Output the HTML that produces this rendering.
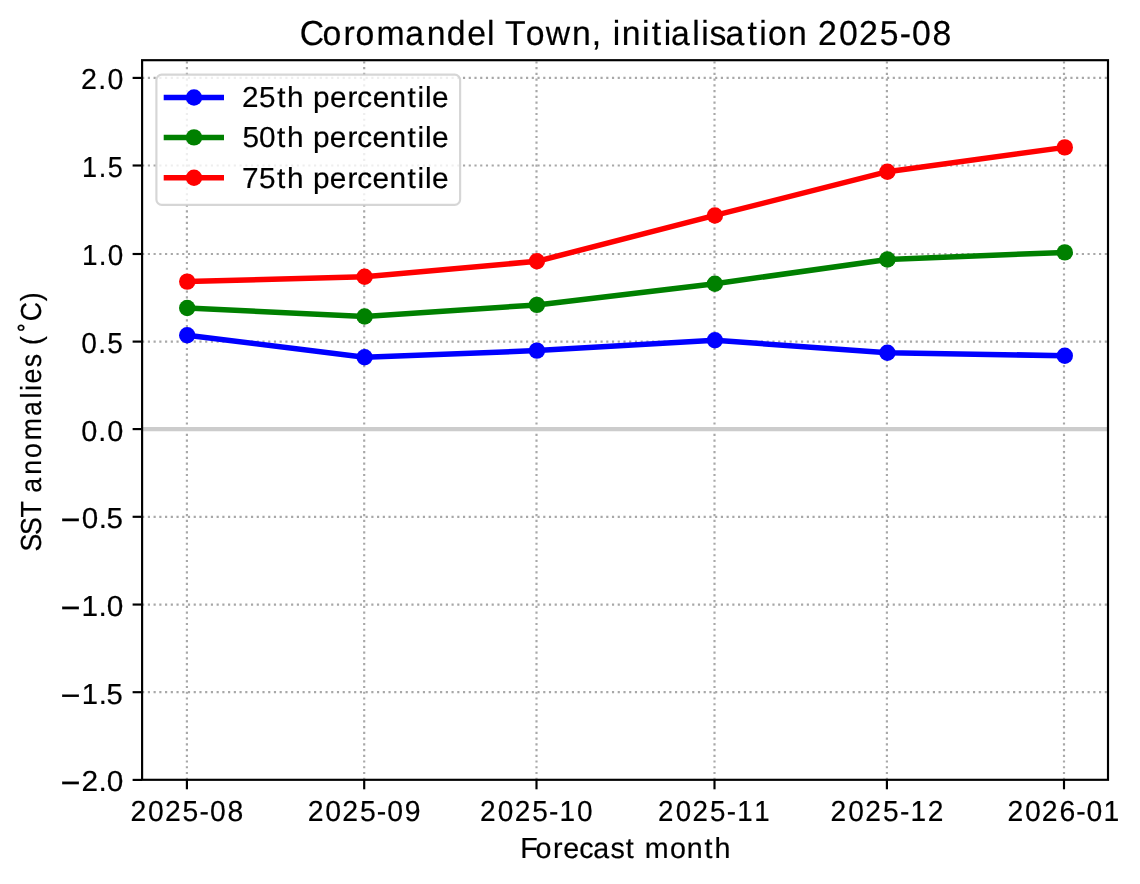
<!DOCTYPE html>
<html lang="en"><head><meta charset="utf-8"><title>Coromandel Town, initialisation 2025-08</title>
<style>html,body{margin:0;padding:0;background:#fff}body{width:1140px;height:884px;overflow:hidden;font-family:"Liberation Sans",sans-serif}svg{display:block;will-change:transform}</style></head>
<body>
<svg width="1140" height="884" viewBox="0 0 1140 884" font-family="'Liberation Sans', sans-serif" fill="#000" text-rendering="geometricPrecision">
<style>text{stroke:#000;stroke-width:0.2px;stroke-linejoin:round}</style>
<rect width="1140" height="884" fill="#fff"/>
<g stroke="#a8a8a8" stroke-width="2.16" stroke-dasharray="2.16 3.57" fill="none">
<path d="M186.9 779.8V60.2"/>
<path d="M364.2 779.8V60.2"/>
<path d="M536.5 779.8V60.2"/>
<path d="M714.5 779.8V60.2"/>
<path d="M886.9 779.8V60.2"/>
<path d="M1064.0 779.8V60.2"/>
<path d="M142.1 77.9H1108.0"/>
<path d="M142.1 165.5H1108.0"/>
<path d="M142.1 254.0H1108.0"/>
<path d="M142.1 341.6H1108.0"/>
<path d="M142.1 429.1H1108.0"/>
<path d="M142.1 516.8H1108.0"/>
<path d="M142.1 604.55H1108.0"/>
<path d="M142.1 692.2H1108.0"/>
</g>
<path d="M142.1 429.1H1108.0" stroke="#cccccc" stroke-width="4.05" fill="none"/>
<polyline points="187.2,335.3 364.6,357.2 536.9,350.6 714.9,340.3 887.4,352.7 1064.8,355.7" fill="none" stroke="#0000ff" stroke-width="5.5" stroke-linejoin="round"/>
<circle cx="187.2" cy="335.3" r="8.2" fill="#0000ff"/>
<circle cx="364.6" cy="357.2" r="8.2" fill="#0000ff"/>
<circle cx="536.9" cy="350.6" r="8.2" fill="#0000ff"/>
<circle cx="714.9" cy="340.3" r="8.2" fill="#0000ff"/>
<circle cx="887.4" cy="352.7" r="8.2" fill="#0000ff"/>
<circle cx="1064.8" cy="355.7" r="8.2" fill="#0000ff"/>
<polyline points="187.2,308.0 364.6,316.5 536.9,304.9 714.9,283.75 887.4,259.5 1064.8,252.4" fill="none" stroke="#008000" stroke-width="5.5" stroke-linejoin="round"/>
<circle cx="187.2" cy="308.0" r="8.2" fill="#008000"/>
<circle cx="364.6" cy="316.5" r="8.2" fill="#008000"/>
<circle cx="536.9" cy="304.9" r="8.2" fill="#008000"/>
<circle cx="714.9" cy="283.75" r="8.2" fill="#008000"/>
<circle cx="887.4" cy="259.5" r="8.2" fill="#008000"/>
<circle cx="1064.8" cy="252.4" r="8.2" fill="#008000"/>
<polyline points="187.2,281.6 364.6,276.7 536.9,261.3 714.9,215.45 887.4,171.7 1064.8,147.4" fill="none" stroke="#ff0000" stroke-width="5.5" stroke-linejoin="round"/>
<circle cx="187.2" cy="281.6" r="8.2" fill="#ff0000"/>
<circle cx="364.6" cy="276.7" r="8.2" fill="#ff0000"/>
<circle cx="536.9" cy="261.3" r="8.2" fill="#ff0000"/>
<circle cx="714.9" cy="215.45" r="8.2" fill="#ff0000"/>
<circle cx="887.4" cy="171.7" r="8.2" fill="#ff0000"/>
<circle cx="1064.8" cy="147.4" r="8.2" fill="#ff0000"/>
<g stroke="#000" stroke-width="2.16" fill="none">
<path d="M186.9 779.8v9.5"/>
<path d="M364.2 779.8v9.5"/>
<path d="M536.5 779.8v9.5"/>
<path d="M714.5 779.8v9.5"/>
<path d="M886.9 779.8v9.5"/>
<path d="M1064.0 779.8v9.5"/>
<path d="M142.1 77.9h-9.5"/>
<path d="M142.1 165.5h-9.5"/>
<path d="M142.1 254.0h-9.5"/>
<path d="M142.1 341.6h-9.5"/>
<path d="M142.1 429.1h-9.5"/>
<path d="M142.1 516.8h-9.5"/>
<path d="M142.1 604.55h-9.5"/>
<path d="M142.1 692.2h-9.5"/>
<path d="M142.1 779.9h-9.5"/>
<rect x="142.1" y="60.2" width="965.9" height="719.6"/>
</g>
<rect x="156.4" y="74.7" width="303.7" height="130.2" rx="5.4" ry="5.4" fill="#fff" fill-opacity="0.8" stroke="#cccccc" stroke-opacity="0.8" stroke-width="2.16"/>
<path d="M163.7 97.5H224.0" stroke="#0000ff" stroke-width="5.5" fill="none"/>
<circle cx="194.0" cy="97.5" r="8.2" fill="#0000ff"/>
<text transform="scale(1.0236 1)" x="236.52 253.15 270.84 280.48 296.92 305.84 322.30 339.55 349.05 364.05 380.59 398.08 407.85 415.20 422.15" y="107.1" font-size="29.0">25th percentile</text>
<path d="M163.7 137.4H224.0" stroke="#008000" stroke-width="5.5" fill="none"/>
<circle cx="194.0" cy="137.4" r="8.2" fill="#008000"/>
<text transform="scale(1.0272 1)" x="235.99 252.25 269.79 279.39 295.81 304.68 321.09 338.30 347.77 362.71 379.21 396.66 406.40 413.73 420.62" y="147.3" font-size="29.0">50th percentile</text>
<path d="M163.7 177.8H224.0" stroke="#ff0000" stroke-width="5.5" fill="none"/>
<circle cx="194.0" cy="177.8" r="8.2" fill="#ff0000"/>
<text transform="scale(1.0261 1)" x="235.92 252.31 269.98 279.60 296.04 304.93 321.37 338.61 348.09 363.07 379.59 397.07 406.82 414.16 421.08" y="187.5" font-size="29.0">75th percentile</text>
<text transform="scale(0.9761 1)" x="307.13 330.52 351.86 364.23 385.65 415.26 437.11 457.74 478.60 499.03 507.45 517.43 538.53 559.19 586.06 606.15 616.53 627.76 637.06 657.80 667.77 679.88 687.52 709.21 718.38 726.95 743.19 765.72 777.82 786.69 807.28 827.28 838.17 859.57 880.10 901.38 921.80 934.36 955.45" y="44.6" font-size="34.6">Coromandel Town, initialisation 2025-08</text>
<text transform="scale(0.9756 1)" x="133.70 151.72 169.14 187.19 204.47 215.17 233.14" y="820.85" font-size="29.0">2025-08</text>
<text transform="scale(0.9793 1)" x="314.23 332.17 349.53 367.52 384.77 395.42 413.37" y="820.85" font-size="29.0">2025-09</text>
<text transform="scale(0.9669 1)" x="496.50 514.73 532.30 550.50 567.91 578.58 596.83" y="820.85" font-size="29.0">2025-10</text>
<text transform="scale(0.9557 1)" x="688.58 706.99 724.68 743.01 760.52 771.30 789.28" y="820.85" font-size="29.0">2025-11</text>
<text transform="scale(0.9693 1)" x="856.72 875.10 892.77 911.08 928.57 939.33 957.10" y="820.85" font-size="29.0">2025-12</text>
<text transform="scale(0.9764 1)" x="1031.84 1049.71 1067.03 1085.08 1102.18 1112.79 1130.11" y="820.85" font-size="29.0">2026-01</text>
<text transform="scale(0.9850 1)" x="82.15 99.70 109.07" y="89.35" font-size="29.0">2.0</text>
<text transform="scale(0.9359 1)" x="87.65 105.52 115.01" y="176.95" font-size="29.0">1.5</text>
<text transform="scale(0.9630 1)" x="85.13 102.47 111.90" y="265.45" font-size="29.0">1.0</text>
<text transform="scale(0.9700 1)" x="83.77 101.39 110.46" y="353.05" font-size="29.0">0.5</text>
<text transform="scale(0.9959 1)" x="81.56 98.66 107.71" y="440.55" font-size="29.0">0.0</text>
<text transform="scale(1.0207 1)" x="59.19 80.16 96.63 104.23" y="528.25" font-size="29.0"><tspan font-size="33.60" dy="2.82">−</tspan><tspan dy="-2.82">0.5</tspan></text>
<text transform="scale(1.0276 1)" x="58.78 79.42 95.98 103.92" y="616.0" font-size="29.0"><tspan font-size="33.39" dy="2.75">−</tspan><tspan dy="-2.75">1.0</tspan></text>
<text transform="scale(1.0097 1)" x="59.83 80.96 97.72 105.52" y="703.65" font-size="29.0"><tspan font-size="33.96" dy="2.95">−</tspan><tspan dy="-2.95">1.5</tspan></text>
<text transform="scale(1.0286 1)" x="58.73 79.16 95.89 103.81" y="791.35" font-size="29.0"><tspan font-size="33.36" dy="2.74">−</tspan><tspan dy="-2.74">2.0</tspan></text>
<text transform="scale(0.9872 1)" x="526.90 542.53 560.18 570.45 586.74 601.03 618.50 633.87 643.31 653.20 678.73 695.73 713.59 723.71" y="858.35" font-size="29.0">Forecast month</text>
<text transform="translate(41.1 550.2) rotate(-90) scale(0.9201 1)" x="-1.32 16.53 35.49 53.32 62.53 81.98 100.22 119.58 145.76 164.76 172.94 181.26 198.91 213.61 223.13 237.62 248.74 270.71" y="0" font-size="29.0">SST anomalies (˚C)</text>
</svg>
</body></html>
